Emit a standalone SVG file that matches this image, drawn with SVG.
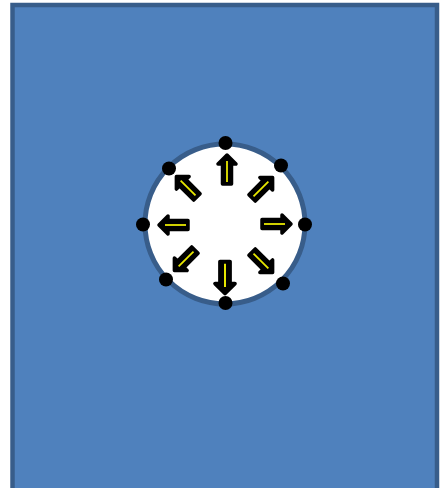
<svg xmlns="http://www.w3.org/2000/svg" width="444" height="488" viewBox="0 0 444 488">
<style>
.bg{fill:#4F81BD;stroke:#385D8A;stroke-width:4.5}
.ring{fill:#FFFFFF;stroke:#385D8A;stroke-width:5}
.dot{fill:#000000}
.ah{fill:#000000;stroke:#000000;stroke-width:3.5;stroke-linejoin:round}
.yl{stroke:#E8E800;stroke-width:1.8;fill:none}
</style>
<defs>
<g id="arrow">
<path class="ah" d="M0,-15 L9,-6 L4.5,-6 L4.5,14 L-4.5,14 L-4.5,-6 L-9,-6 Z"/>
<line class="yl" x1="0" y1="-9" x2="0" y2="12"/>
</g>
</defs>
<g id="background"><rect class="bg" x="12.5" y="5" width="424.5" height="487"/></g>
<g id="circle"><circle class="ring" cx="225" cy="224" r="80"/></g>
<g id="arrows">
<use href="#arrow" transform="translate(227,170)"/>
<use href="#arrow" transform="translate(262,188) rotate(45)"/>
<use href="#arrow" transform="translate(276,224) rotate(90)"/>
<use href="#arrow" transform="translate(262,262) rotate(135)"/>
<use href="#arrow" transform="translate(225,277) rotate(180) scale(1.1)"/>
<use href="#arrow" transform="translate(185,260) rotate(225)"/>
<use href="#arrow" transform="translate(174,225) rotate(270)"/>
<use href="#arrow" transform="translate(187,187) rotate(315)"/>
</g>
<g id="dots">
<circle class="dot" cx="225.5" cy="143" r="7"/>
<circle class="dot" cx="281" cy="165.5" r="7"/>
<circle class="dot" cx="305" cy="224.5" r="7"/>
<circle class="dot" cx="283" cy="283.5" r="7"/>
<circle class="dot" cx="225.5" cy="303" r="7"/>
<circle class="dot" cx="166" cy="279.5" r="7"/>
<circle class="dot" cx="143" cy="224.5" r="7"/>
<circle class="dot" cx="169" cy="168.5" r="7"/>
</g>
</svg>
